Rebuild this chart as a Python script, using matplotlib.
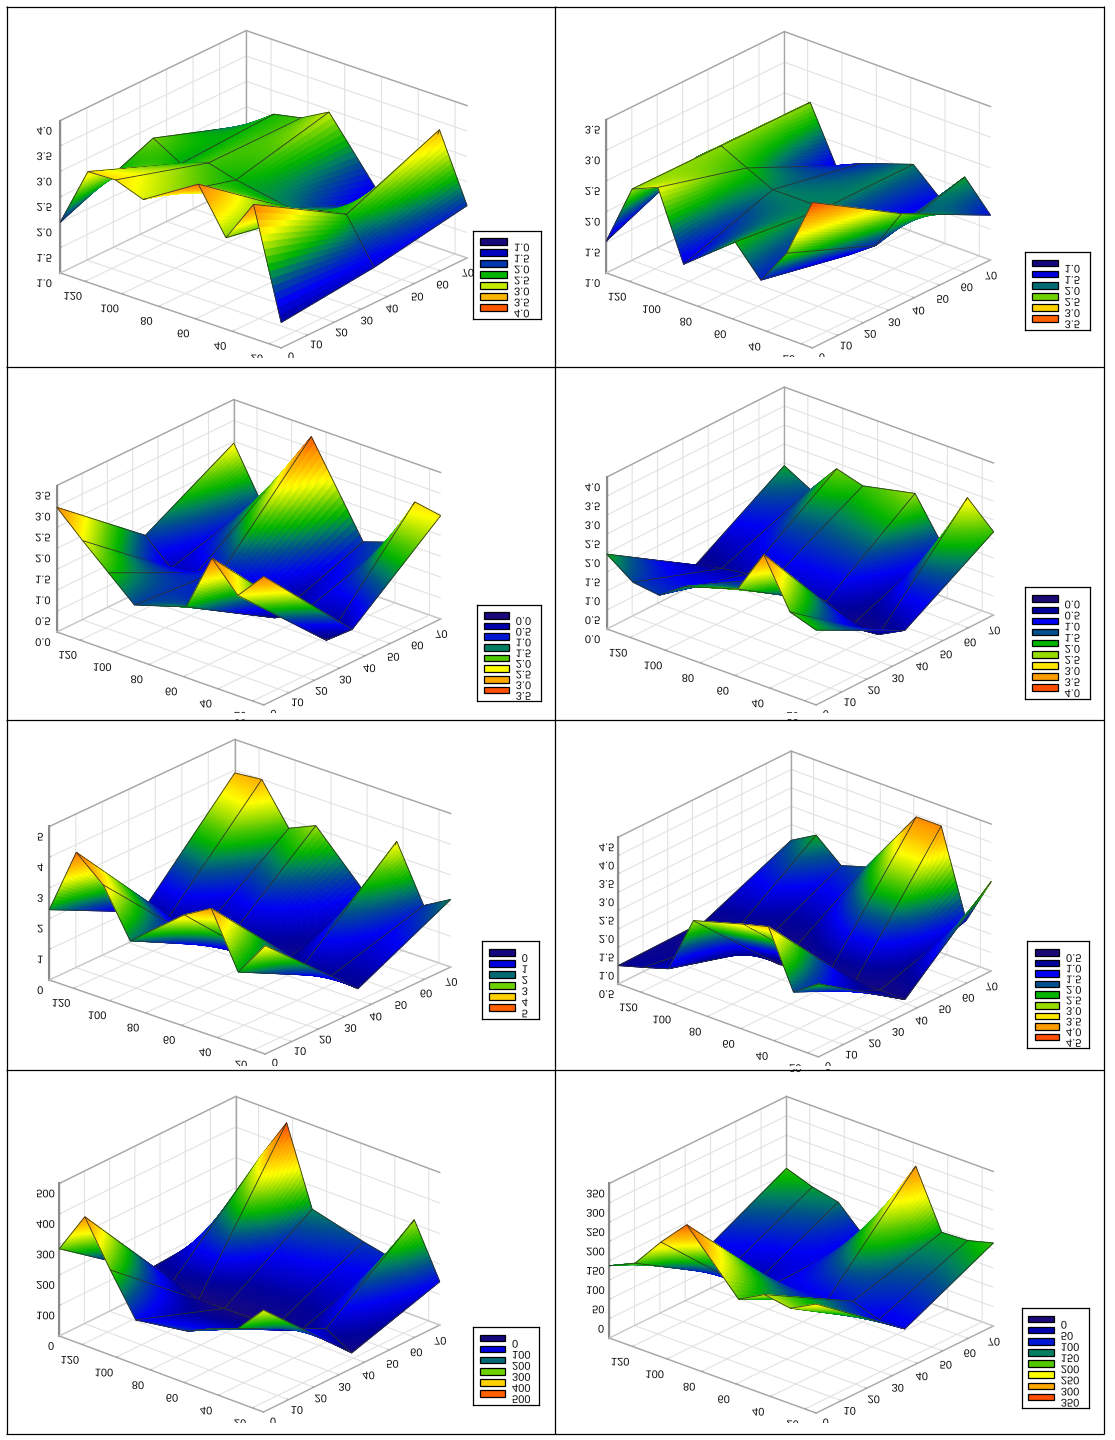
import numpy as np
import matplotlib
matplotlib.use("Agg")
import matplotlib.pyplot as plt
from matplotlib.colors import LinearSegmentedColormap, Normalize
from matplotlib.patheffects import AbstractPathEffect
from matplotlib.patches import Rectangle
from matplotlib.transforms import Affine2D
from mpl_toolkits.mplot3d import proj3d
from mpl_toolkits.mplot3d.art3d import Poly3DCollection

W, H = 1115, 1440
plt.rcParams['font.family'] = ['Liberation Sans', 'DejaVu Sans']
plt.rcParams['grid.color'] = '#e2e2e2'
plt.rcParams['grid.linewidth'] = 0.8

# ---- data ----
x_levels = [0, 35, 70]
y_levels = [13.5, 28.5, 43.5, 58.5, 88.5, 103.5, 118.5, 133.5]
x_ticks = [0, 10, 20, 30, 40, 50, 60, 70]
y_ticks = [20, 40, 60, 80, 100, 120]

z1 = [[1.50, 3.64, 2.80, 3.67, 3.00, 3.20, 3.18, 2.00],
      [1.70, 2.56, 2.45, 2.30, 2.50, 2.65, 2.45, 2.77],
      [2.03, 3.34, 1.65, 1.55, 2.95, 2.65, 2.54, 2.13]]
z2 = [[3.37, 2.39, 1.80, 2.27, 1.60, 2.70, 2.52, 1.52],
      [2.47, 1.80, 1.50, 2.10, 2.10, 2.30, 2.51, 2.16],
      [1.73, 2.20, 1.72, 2.10, 1.81, 1.62, 2.50, 2.14]]
z3 = [[3.07, 2.40, 3.07, 1.69, 1.30, 1.85, 2.40, 2.98],
      [0.78, 0.30, 0.70, 0.40, 1.12, 0.83, 0.72, 1.28],
      [2.47, 2.58, 1.40, 1.19, 3.27, 2.30, 1.34, 2.46]]
z4 = [[1.97, 2.20, 3.46, 2.30, 1.87, 1.39, 1.48, 1.97],
      [0.78, 0.42, 0.43, 0.80, 0.90, 0.77, 0.66, 0.50],
      [2.19, 2.84, 1.39, 2.45, 2.15, 2.35, 1.55, 1.93]]
z5 = [[3.53, 2.37, 4.14, 3.63, 2.18, 3.70, 4.46, 2.29],
      [0.71, 0.82, 0.89, 0.53, 0.60, 0.54, 0.95, 0.80],
      [2.20, 1.70, 3.49, 1.30, 3.10, 2.71, 4.00, 3.91]]
z6 = [[2.49, 2.02, 3.55, 3.37, 2.97, 1.41, 1.20, 1.00],
      [0.89, 0.90, 0.88, 0.92, 0.60, 0.72, 0.84, 1.04],
      [2.94, 1.63, 3.95, 3.95, 2.09, 1.88, 2.46, 2.07]]
z7 = [[334, 243, 211, 172, 146, 279, 422, 286],
      [51, 100, 63, 44, 41, 38, 69, 74],
      [142, 314, 162, 180, 224, 476, 337, 91]]
z8 = [[232, 197, 208, 172, 316, 247, 168, 137],
      [55, 55, 78, 57, 52, 13, 27, 46],
      [165, 147, 144, 291, 60, 125, 140, 164]]

ticks1 = ['1.0', '1.5', '2.0', '2.5', '3.0', '3.5', '4.0']
ticks2 = ['1.0', '1.5', '2.0', '2.5', '3.0', '3.5']
ticks3 = ['0.0', '0.5', '1.0', '1.5', '2.0', '2.5', '3.0', '3.5']
ticks4 = ['0.0', '0.5', '1.0', '1.5', '2.0', '2.5', '3.0', '3.5', '4.0']
ticks5 = ['0', '1', '2', '3', '4', '5']
ticks6 = ['0.5', '1.0', '1.5', '2.0', '2.5', '3.0', '3.5', '4.0', '4.5']
ticks7 = ['0', '100', '200', '300', '400', '500']
ticks8 = ['0', '50', '100', '150', '200', '250', '300', '350']

# ---- layout, in reference pixels ----
geom = [
    dict(z=z1, t=ticks1, zl=(1, 4), zdx=13, lb=(60, 273), lty=119, f=(281, 348), r=(467, 258), bt=(247, 32), clip=358, leg=(473, 231, 541, 319), sw=(480, 507), first=241.7, step=11.0),
    dict(z=z2, t=ticks2, zl=(1, 3.5), zdx=15, lb=(606.6, 273), lty=119, f=(812.8, 348), r=(991, 260), bt=(783, 32), clip=357, leg=(1025, 252, 1089.5, 330), sw=(1032, 1057.6), first=263, step=11.1),
    dict(z=z3, t=ticks3, zl=(0, 3.5), zdx=15, lb=(57, 632), lty=485, f=(264, 705), r=(441, 619), bt=(233, 400), clip=713, leg=(477, 604.7, 540.5, 701), sw=(484, 508.7), first=615.3, step=10.7),
    dict(z=z4, t=ticks4, zl=(0, 4), zdx=14.5, lb=(606.6, 629), lty=476, f=(816, 705), r=(993.5, 615), bt=(785, 388), clip=713, leg=(1024.7, 587.3, 1089.5, 699.3), sw=(1032, 1057.6), first=598.7, step=11.1),
    dict(z=z5, t=ticks5, zl=(0, 5), zdx=14.4, lb=(49.6, 980), lty=827, f=(265.5, 1054), r=(451, 967), bt=(233.6, 739), clip=1066, leg=(481.8, 941.3, 538.8, 1019.3), sw=(489, 514.7), first=952.3, step=11.07),
    dict(z=z6, t=ticks6, zl=(0.5, 4.5), zdx=17, lb=(618.5, 984), lty=836, f=(818.8, 1057), r=(991.7, 971), bt=(790, 752), clip=1066, leg=(1026.8, 941.3, 1088.5, 1048.3), sw=(1034.5, 1059), first=952.3, step=10.6),
    dict(z=z7, t=ticks7, zl=(0, 500), zdx=15, lb=(59.5, 1336), lty=1184, f=(263.7, 1412), r=(440, 1325), bt=(234.7, 1096), clip=1423, leg=(473, 1326.7, 538.8, 1405.3), sw=(480.4, 505), first=1338, step=11.07),
    dict(z=z8, t=ticks8, zl=(-50, 350), zdx=15, lb=(609.4, 1338), lty=1184, f=(816.3, 1413), r=(993.5, 1326), bt=(785.8, 1096), clip=1423, leg=(1021.5, 1307.7, 1088.5, 1408.3), sw=(1028, 1053.8), first=1319, step=11.14),
]

cmap = LinearSegmentedColormap.from_list('rainbowish', [
    (0.00, '#2a0070'), (0.06, '#1a0a78'), (0.167, '#00009c'), (0.28, '#0000f5'),
    (0.39, '#00508c'), (0.44, '#008060'), (0.50, '#00b400'), (0.5625, '#50c800'),
    (0.61, '#96dc00'), (0.69, '#ffff00'), (0.79, '#ffb400'), (0.83, '#ffa000'),
    (0.94, '#ff5000'), (1.00, '#ff3c00')], N=512)


class FlipText(AbstractPathEffect):
    """Mirrors a text top-to-bottom about its own middle, as in the reference."""
    def __init__(self, dx=0, dy=0):
        super().__init__()
        self.dx, self.dy = dx, dy

    def draw_path(self, renderer, gc, tpath, affine, rgbFace=None):
        e = tpath.get_extents()
        a = Affine2D().scale(1, -1).translate(0, e.y0 + e.y1) + affine + Affine2D().translate(self.dx, -self.dy)
        renderer.draw_path(gc, tpath, a, rgbFace)


fig = plt.figure(figsize=(W / 100, H / 100), dpi=100, facecolor='white')
TXT = dict(fontsize=8, color='#111111')
NI, NJ = 80, 16


def place(ax, g, zlo, zhi):
    xa, xb = x_levels[0], x_levels[-1]
    ya, yb = y_levels[0], y_levels[-1]
    pts = [(xa, ya, zlo), (xb, ya, zlo), (xa, yb, zlo), (xb, yb, zhi), (xa, yb, zhi)]
    tgt = np.array([g['f'], g['r'], g['lb'], g['bt'], (g['lb'][0], g['lty'])], float)
    tgt[:, 1] = H - tgt[:, 1]
    S0 = 600.0
    ax.set_position([0, 0, S0 / W, S0 / H])
    ax.apply_aspect()
    M = ax.get_proj()
    v = []
    for p in pts:
        X, Y, _ = proj3d.proj_transform(*p, M)
        v.append(ax.transData.transform((X, Y)) / S0)
    v = np.array(v)
    n = len(pts)
    A = np.zeros((2 * n, 3))
    A[:n, 0] = v[:, 0]; A[:n, 1] = 1
    A[n:, 0] = v[:, 1]; A[n:, 2] = 1
    S, cx, cy = np.linalg.lstsq(A, np.r_[tgt[:, 0], tgt[:, 1]], rcond=None)[0]
    ax.set_position([cx / W, cy / H, S / W, S / H])


def panel(g):
    Z = np.array(g['z'], float)
    zt = [float(t) for t in g['t']]
    zlo, zhi = g['zl']
    ax_ = np.subtract(g['r'], g['f'])
    bx_ = np.subtract(g['lb'], g['f'])
    height = (g['lb'][1] - g['lty'] + (g['lb'][1] + g['r'][1] - g['f'][1]) - g['bt'][1]) / 2
    r1, r2 = abs(ax_[1]) / ax_[0], abs(bx_[1]) / abs(bx_[0])
    e = np.arcsin(np.sqrt(r1 * r2))
    a = np.arctan(np.sqrt(r2 / r1))
    dx, dy, dz = ax_[0] / np.sin(a), abs(bx_[0]) / np.cos(a), height / np.cos(e)
    ax = fig.add_axes([0, 0, .5, .4], projection='3d', computed_zorder=False, proj_type='ortho')
    ax.set_facecolor('none')
    ax.patch.set_alpha(0)
    elev, azim = np.degrees(e), -180 + np.degrees(a)
    ax.view_init(elev=elev, azim=azim)
    ax.set_box_aspect((dx, dy, dz))
    xa, xb = x_levels[0], x_levels[-1]
    ya, yb = y_levels[0], y_levels[-1]
    ax.set_xlim(xa, xb); ax.set_ylim(ya, yb); ax.set_zlim(zlo, zhi)
    place(ax, g, zlo, zhi)

    # surface: bilinear facets coloured by height
    norm = Normalize(zlo, zhi)
    x = np.array(x_levels, float); y = np.array(y_levels, float)
    polys, cols = [], []
    si = (np.arange(NI + 1) / NI)[None, :]
    sj = (np.arange(NJ + 1) / NJ)[:, None]
    for i in range(len(x) - 1):
        for j in range(len(y) - 1):
            XX = x[i] + (x[i + 1] - x[i]) * si * np.ones((NJ + 1, 1))
            YY = y[j] + (y[j + 1] - y[j]) * sj * np.ones((1, NI + 1))
            ZZ = (Z[i, j] * (1 - si) * (1 - sj) + Z[i + 1, j] * si * (1 - sj)
                  + Z[i, j + 1] * (1 - si) * sj + Z[i + 1, j + 1] * si * sj)
            C = cmap(norm((ZZ[:-1, :-1] + ZZ[:-1, 1:] + ZZ[1:, 1:] + ZZ[1:, :-1]) / 4))
            for q in range(NJ):
                for p in range(NI):
                    polys.append([(XX[q, p], YY[q, p], ZZ[q, p]), (XX[q, p + 1], YY[q, p + 1], ZZ[q, p + 1]),
                                  (XX[q + 1, p + 1], YY[q + 1, p + 1], ZZ[q + 1, p + 1]), (XX[q + 1, p], YY[q + 1, p], ZZ[q + 1, p])])
                    cols.append(tuple(C[q, p]))
    # grid lines of the surface, nudged toward the viewer so depth sorting keeps them on top
    cam = np.array([np.cos(e) * np.cos(np.radians(azim)), np.cos(e) * np.sin(np.radians(azim)), np.sin(e)])
    big = max(dx, dy, dz)
    off = cam * 0.022 * np.array([(xb - xa) * big / dx, (yb - ya) * big / dy, (zhi - zlo) * big / dz])
    dark = (0.18, 0.20, 0.16, 1.0)

    def seg(P, Q):
        a_, b_ = np.array(P) + off, np.array(Q) + off
        polys.append([tuple(a_), tuple(b_), tuple(b_), tuple(a_)])
        cols.append(dark)

    for i in range(len(x)):
        for j in range(len(y) - 1):
            for t in range(NJ):
                s0, s1 = t / NJ, (t + 1) / NJ
                seg((x[i], y[j] + (y[j + 1] - y[j]) * s0, Z[i, j] + (Z[i, j + 1] - Z[i, j]) * s0),
                    (x[i], y[j] + (y[j + 1] - y[j]) * s1, Z[i, j] + (Z[i, j + 1] - Z[i, j]) * s1))
    for j in range(len(y)):
        for i in range(len(x) - 1):
            for t in range(0, NI, 2):
                s0, s1 = t / NI, (t + 2) / NI
                seg((x[i] + (x[i + 1] - x[i]) * s0, y[j], Z[i, j] + (Z[i + 1, j] - Z[i, j]) * s0),
                    (x[i] + (x[i + 1] - x[i]) * s1, y[j], Z[i, j] + (Z[i + 1, j] - Z[i, j]) * s1))
    pc = Poly3DCollection(polys, facecolors=cols, edgecolors=cols, linewidths=0.6, zorder=3)
    ax.add_collection3d(pc, autolim=False)

    # walls and axes
    for axis in (ax.xaxis, ax.yaxis, ax.zaxis):
        axis.set_pane_color((1, 1, 1, 0))
        axis.pane.set_edgecolor('none')
        axis.line.set_color('#a6a6a6')
        axis.line.set_linewidth(1.0)
        axis._axinfo['tick'].update(inward_factor=0.0, outward_factor=0.09, color='#a6a6a6')
        axis._axinfo['tick']['linewidth'] = {True: 0.7, False: 0.7}
        axis.set_tick_params(colors='#111111', labelsize=8, color='#a6a6a6')
    ax.set_xticks(x_ticks, [str(v) for v in x_ticks])
    ax.set_yticks(y_ticks, [str(v) for v in y_ticks])
    ax.set_zticks(zt, g['t'])
    for k, t in enumerate(ax.get_xticklabels()):
        t.set_path_effects([FlipText(-6 - 1.3 * k, -12 + 0.9 * k)])
    for t in ax.get_yticklabels():
        t.set_path_effects([FlipText(1, -7)])
    for t, lab in zip(ax.get_zticklabels(), g['t']):
        t.set_path_effects([FlipText(g['zdx'] + (3 - len(lab)) * 2.8, 5)])

    grey = dict(color='#a6a6a6', lw=1.0, zorder=1)
    ax.plot([xa, xb], [yb, yb], [zhi, zhi], **grey)
    ax.plot([xb, xb], [yb, ya], [zhi, zhi], **grey)
    ax.plot([xb, xb], [yb, yb], [zlo, zhi], **grey)
    ax.plot([xa, xa], [yb, yb], [zlo, zhi], color='#8c8c8c', lw=1.5, zorder=1)
    ax.plot([xa, xb], [yb, yb], [zlo, zlo], color='#c8c8c8', lw=1.0, zorder=1)
    ax.plot([xb, xb], [yb, ya], [zlo, zlo], color='#c8c8c8', lw=1.0, zorder=1)
    return ax


for g in geom:
    panel(g)

# overlay: white crop under each plot and the table rules
ov = fig.add_axes([0, 0, 1, 1], zorder=5)
ov.set_xlim(0, W); ov.set_ylim(H, 0); ov.axis('off'); ov.patch.set_alpha(0)
cells = [(6, 6, 554, 366), (554, 6, 1104, 366), (6, 366, 554, 719), (554, 366, 1104, 719),
         (6, 719, 554, 1069), (554, 719, 1104, 1069), (6, 1069, 554, 1434), (554, 1069, 1104, 1434)]
for c, g in zip(cells, geom):
    ov.add_patch(Rectangle((c[0], g['clip']), c[2] - c[0], c[3] - g['clip'], fc='white', ec='none', zorder=1))
for xx in (6.5, 554.5, 1103.5):
    ov.plot([xx, xx], [6, 1434], color='black', lw=0.9, zorder=2, solid_capstyle='butt')
for yy in (6.5, 366.5, 719.5, 1069.5, 1433.5):
    ov.plot([6, 1104], [yy, yy], color='black', lw=0.9, zorder=2, solid_capstyle='butt')

# legends
for g in geom:
    x0, y0, x1, y1 = g['leg']
    lg = fig.add_axes([x0 / W, 1 - y1 / H, (x1 - x0) / W, (y1 - y0) / H], zorder=6)
    lg.set_xlim(x0, x1); lg.set_ylim(y1, y0)
    lg.set_xticks([]); lg.set_yticks([])
    for s in lg.spines.values():
        s.set_linewidth(0.9); s.set_color('black')
    n = len(g['t'])
    a_, b_ = g['sw']
    for k, lab in enumerate(g['t']):
        yc = g['first'] + k * g['step']
        lg.add_patch(Rectangle((a_, yc - 3.3), b_ - a_, 6.6, fc=cmap((k + .5) / n), ec='black', lw=0.9))
        tx = lg.text(b_ + 7, yc + 6.6, lab, ha='left', va='center', clip_on=True, **TXT)
        tx.set_path_effects([FlipText()])

fig.savefig('out.png', dpi=100, facecolor='white')
